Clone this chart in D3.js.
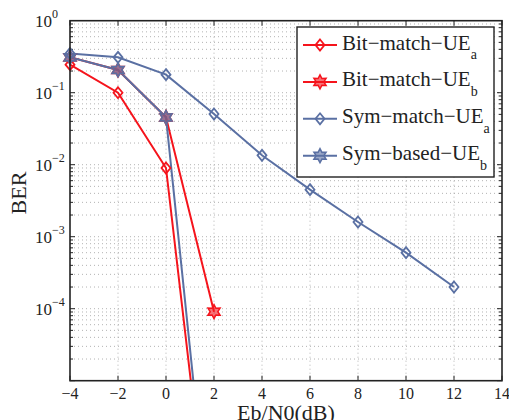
<!DOCTYPE html>
<html>
<head>
<meta charset="utf-8">
<script src="https://cdn.jsdelivr.net/npm/d3@7"></script>
<style>
  body { margin: 0; background: #fff; }
</style>
</head>
<body>
<svg id="chart" width="509" height="420"></svg>
<script>
// chart data
const xTicks = [-4, -2, 0, 2, 4, 6, 8, 10, 12, 14];
const yDecades = [-5, -4, -3, -2, -1, 0];

const bitMatchA_x = [-4, -2, 0, 2];
const bitMatchA_y = [0.245, 0.1, 0.009, 1.7e-8];

const bitMatchB_x = [-4, -2, 0, 2];
const bitMatchB_y = [0.31, 0.207, 0.0455, 9.1e-5];

const symMatchA_x = [-4, -2, 0, 2, 4, 6, 8, 10, 12];
const symMatchA_y = [0.35, 0.31, 0.178, 0.0506, 0.0135, 0.0045, 0.0016, 0.0006, 0.0002];

const symBasedB_x = [-4, -2, 0, 2];
const symBasedB_y = [0.31, 0.207, 0.0455, 1.7e-8];

const seriesNames = ["Bit−match−UE", "Bit−match−UE", "Sym−match−UE", "Sym−based−UE"];
const seriesSubs = ["a", "b", "a", "b"];

const RED = "#f5141c";
const BLUE = "#5a70a3";
const FONT = "Liberation Serif";

const series = [
  { x: bitMatchA_x, y: bitMatchA_y, color: RED, marker: "diamond" },
  { x: bitMatchB_x, y: bitMatchB_y, color: RED, marker: "star" },
  { x: symMatchA_x, y: symMatchA_y, color: BLUE, marker: "diamond" },
  { x: symBasedB_x, y: symBasedB_y, color: BLUE, marker: "star" }
];

const L = 70, R = 502, T = 20.7, B = 380.7;

const svg = d3.select("#chart");
const xScale = d3.scaleLinear([-4, 14], [L, R]);
const yScale = d3.scaleLog([1e-5, 1], [B, T]);

// grid
const grid = svg.append("g").attr("stroke", "#a0a0a0").attr("stroke-width", 0.8)
  .attr("stroke-dasharray", "1,3");
xTicks.slice(1, -1).forEach(v => {
  grid.append("line").attr("x1", xScale(v)).attr("x2", xScale(v)).attr("y1", T).attr("y2", B);
});
const minorVals = [];
yDecades.slice(0, -1).forEach(d => {
  for (let m = 1; m <= 9; m++) minorVals.push(m * Math.pow(10, d));
});
minorVals.forEach(v => {
  if (v <= 1e-5) return;
  grid.append("line").attr("x1", L).attr("x2", R).attr("y1", yScale(v)).attr("y2", yScale(v));
});

// ticks inside the box, all four sides
const ticks = svg.append("g").attr("stroke", "#222").attr("stroke-width", 1);
xTicks.forEach(v => {
  ticks.append("line").attr("x1", xScale(v)).attr("x2", xScale(v)).attr("y1", B).attr("y2", B - 5);
  ticks.append("line").attr("x1", xScale(v)).attr("x2", xScale(v)).attr("y1", T).attr("y2", T + 5);
});
minorVals.forEach(v => {
  const major = Math.abs(Math.log10(v) - Math.round(Math.log10(v))) < 1e-9;
  const len = major ? 5 : 3;
  ticks.append("line").attr("x1", L).attr("x2", L + len).attr("y1", yScale(v)).attr("y2", yScale(v));
  ticks.append("line").attr("x1", R).attr("x2", R - len).attr("y1", yScale(v)).attr("y2", yScale(v));
});

// clip for data
svg.append("clipPath").attr("id", "plotClip")
  .append("rect").attr("x", L).attr("y", T).attr("width", R - L).attr("height", B - T);

const plot = svg.append("g").attr("clip-path", "url(#plotClip)");
const line = d3.line().x(d => xScale(d[0])).y(d => yScale(d[1]));

function starPath(r) {
  const pts = [];
  for (let i = 0; i < 12; i++) {
    const a = -Math.PI / 2 + i * Math.PI / 6;
    const rr = i % 2 === 0 ? r : r * 0.55;
    pts.push([rr * Math.cos(a), rr * Math.sin(a)]);
  }
  return "M" + pts.map(p => p.join(",")).join("L") + "Z";
}
function drawMarker(g, kind, cx, cy, color) {
  if (kind === "diamond") {
    g.append("path").attr("d", "M0,-5.5L4.5,0L0,5.5L-4.5,0Z")
      .attr("transform", `translate(${cx},${cy})`)
      .attr("fill", "none").attr("stroke", color).attr("stroke-width", 1.8);
  } else {
    g.append("path").attr("d", starPath(7))
      .attr("transform", `translate(${cx},${cy})`)
      .attr("fill", color).attr("fill-opacity", 0.6).attr("stroke", color).attr("stroke-width", 1.5);
  }
}

series.forEach(s => {
  const pts = s.x.map((v, i) => [v, s.y[i]]);
  plot.append("path").datum(pts).attr("d", line)
    .attr("fill", "none").attr("stroke", s.color).attr("stroke-width", 2);
});
const markers = svg.append("g");
series.forEach(s => {
  s.x.forEach((v, i) => {
    const y = yScale(s.y[i]);
    if (y > B + 1) return;
    drawMarker(markers, s.marker, xScale(v), y, s.color);
  });
});

// axes box
svg.append("rect").attr("x", L).attr("y", T).attr("width", R - L).attr("height", B - T)
  .attr("fill", "none").attr("stroke", "#222").attr("stroke-width", 1.6);

// x tick labels
xTicks.forEach(v => {
  svg.append("text").attr("x", xScale(v)).attr("y", 398.5).attr("text-anchor", "middle")
    .attr("font-family", FONT).attr("font-size", 16).attr("fill", "#222")
    .text(v < 0 ? "−" + Math.abs(v) : v);
});
// y tick labels
yDecades.forEach(d => {
  if (d === -5) return;
  const t = svg.append("text").attr("x", 35).attr("y", yScale(Math.pow(10, d)) + 6)
    .attr("font-family", FONT).attr("font-size", 17).attr("fill", "#222");
  t.append("tspan").text("10");
  t.append("tspan").attr("dy", -9).attr("font-size", 12).text(d === 0 ? "0" : "−" + Math.abs(d));
});

// axis labels
svg.append("text").attr("x", (L + R) / 2).attr("y", 420).attr("text-anchor", "middle")
  .attr("font-family", FONT).attr("font-size", 22).attr("fill", "#222").text("Eb/N0(dB)");
svg.append("text").attr("transform", "translate(26,193) rotate(-90)").attr("text-anchor", "middle")
  .attr("font-family", FONT).attr("font-size", 22).attr("fill", "#222").text("BER");

// legend
const lg = svg.append("g");
lg.append("rect").attr("x", 297).attr("y", 27).attr("width", 197).attr("height", 150)
  .attr("fill", "#fff").attr("stroke", "#222").attr("stroke-width", 1.4);
series.forEach((s, i) => {
  const cy = 45 + i * 36.9;
  lg.append("line").attr("x1", 303).attr("x2", 337).attr("y1", cy).attr("y2", cy)
    .attr("stroke", s.color).attr("stroke-width", 2);
  drawMarker(lg, s.marker, 320, cy, s.color);
  const t = lg.append("text").attr("x", 342).attr("y", cy + 4.5)
    .attr("font-family", FONT).attr("font-size", 21).attr("fill", "#222");
  t.append("tspan").text(seriesNames[i]);
  t.append("tspan").attr("dy", 9.5).attr("font-size", 14).text(seriesSubs[i]);
});
</script>
</body>
</html>
